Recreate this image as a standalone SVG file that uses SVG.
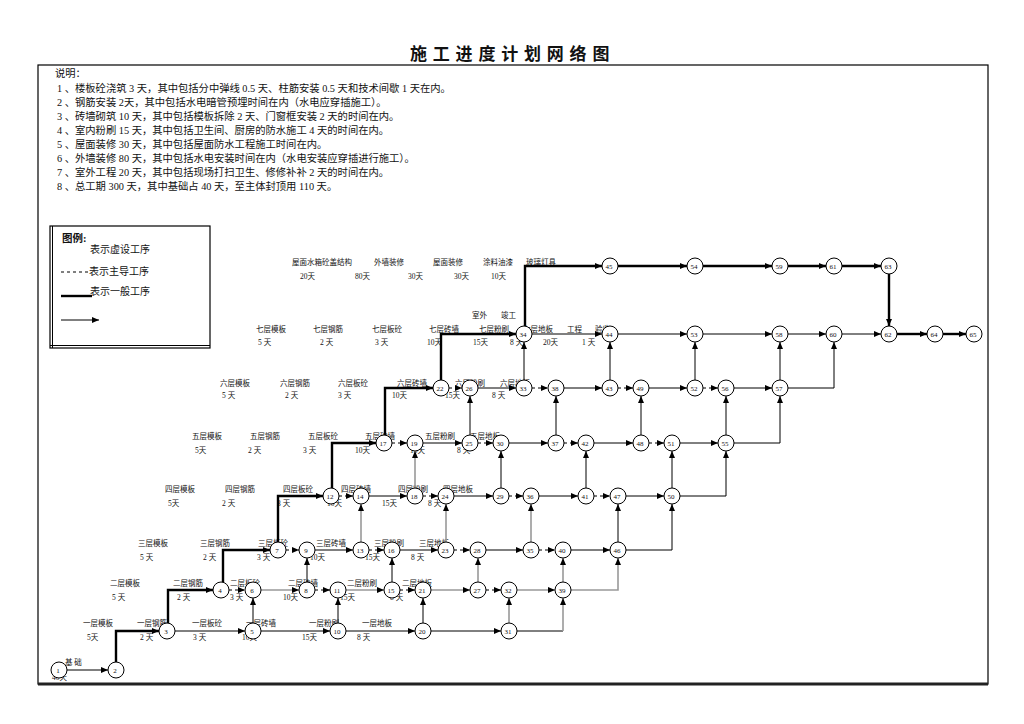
<svg xmlns="http://www.w3.org/2000/svg" width="1024" height="724" viewBox="0 0 1024 724">
<style>
text{font-family:"Liberation Serif","Noto Sans CJK SC",serif;fill:#111}
.ttl{font-size:17px;font-weight:bold;letter-spacing:5.8px}
.nt{font-size:10.3px;white-space:pre}
.lb{font-size:7.5px;fill:#222}
.lg{font-size:10px}
.nn{font-size:7px;text-anchor:middle}
circle{fill:#fff;stroke:#000;stroke-width:1}
.k{stroke:#000;stroke-width:2.4;fill:none}
.t{stroke:#000;stroke-width:1;fill:none}
.g{stroke:#999;stroke-width:1.6;fill:none}
.d{stroke:#000;stroke-width:1;stroke-dasharray:3 3;fill:none}
</style>
<defs>
<marker id="a" markerUnits="userSpaceOnUse" markerWidth="7" markerHeight="6" refX="7" refY="3" orient="auto"><path d="M0,0L7,3L0,6z" fill="#000"/></marker>
</defs>
<rect width="1024" height="724" fill="#fff"/>
<text x="410" y="60" class="ttl">施工进度计划网络图</text>
<rect x="38" y="65" width="950" height="619" fill="none" stroke="#000" stroke-width="1.2"/>
<line x1="38" y1="684" x2="988" y2="684" stroke="#222" stroke-width="3"/>
<g id="notes" class="nt">
<text x="55" y="77">说明：</text>
<text x="57" y="92">1 、楼板砼浇筑 3 天，其中包括分中弹线  0.5 天、柱筋安装 0.5 天和技术间歇 1 天在内。</text>
<text x="57" y="106">2 、钢筋安装 2天，其中包括水电暗管预埋时间在内（水电应穿插施工）。</text>
<text x="57" y="120">3 、砖墙砌筑  10 天，其中包括模板拆除  2 天、门窗框安装 2 天的时间在内。</text>
<text x="57" y="134">4 、室内粉刷 15 天，其中包括卫生间、厨房的防水施工  4 天的时间在内。</text>
<text x="57" y="148">5 、屋面装修 30 天，其中包括屋面防水工程施工时间在内。</text>
<text x="57" y="162">6 、外墙装修 80 天，其中包括水电安装时间在内（水电安装应穿插进行施工）。</text>
<text x="57" y="176">7 、室外工程 20 天，其中包括现场打扫卫生、修修补补  2 天的时间在内。</text>
<text x="57" y="190">8 、总工期 300 天，其中基础占 40 天，至主体封顶用  110 天。</text>
</g>
<g id="legend">
<rect x="50" y="226" width="160" height="122" fill="#fff" stroke="#000" stroke-width="1.2"/>
<line x1="52.5" y1="226" x2="52.5" y2="348" stroke="#000" stroke-width="1"/>
<line x1="50" y1="345.5" x2="210" y2="345.5" stroke="#000" stroke-width="1"/>
<text x="62" y="242" style="font-size:10.5px;font-weight:bold">图例:</text>
<text x="90" y="253" class="lg">表示虚设工序</text>
<line x1="61" y1="272" x2="89" y2="272" class="d" stroke-dasharray="4 3"/>
<text x="89" y="275" class="lg">表示主导工序</text>
<line x1="61" y1="296" x2="92" y2="296" class="k" stroke-width="2.5"/>
<text x="90" y="295" class="lg">表示一般工序</text>
<line x1="61" y1="320" x2="99" y2="320" class="t" marker-end="url(#a)"/>
</g>
<g id="labels" class="lb">
<text x="292" y="265">屋面水箱砼盖结构</text><text x="300" y="279">20天</text>
<text x="374" y="265">外墙装修</text><text x="355" y="279">80天</text>
<text x="433" y="265">屋面装修</text><text x="408" y="279">30天</text>
<text x="483" y="265">涂料油漆</text><text x="454" y="279">30天</text>
<text x="491" y="279">10天</text>
<text x="526" y="265">玻璃灯具</text>
<text x="256" y="332">七层模板</text><text x="258" y="345">5 天</text>
<text x="313" y="332">七层钢筋</text><text x="320" y="345">2 天</text>
<text x="372" y="332">七层板砼</text><text x="375" y="345">3 天</text>
<text x="429" y="332">七层砖墙</text><text x="427" y="345">10天</text>
<text x="479" y="332">七层粉刷</text><text x="473" y="345">15天</text>
<text x="510" y="345">8 天</text>
<text x="472" y="318">室外</text><text x="501" y="318">竣工</text>
<text x="523" y="332">七层地板</text><text x="543" y="345">20天</text>
<text x="567" y="332">工程</text><text x="582" y="345">1 天</text>
<text x="595" y="332">验收</text>
<text x="220" y="386">六层模板</text><text x="222" y="398">5 天</text>
<text x="280" y="386">六层钢筋</text><text x="285" y="398">2 天</text>
<text x="338" y="386">六层板砼</text><text x="338" y="398">3 天</text>
<text x="397" y="386">六层砖墙</text><text x="392" y="398">10天</text>
<text x="455" y="386">六层粉刷</text><text x="445" y="398">15天</text>
<text x="500" y="386">六层地板</text><text x="492" y="398">8 天</text>
<text x="192" y="439">五层模板</text><text x="195" y="453">5天</text>
<text x="250" y="439">五层钢筋</text><text x="248" y="453">2 天</text>
<text x="308" y="439">五层板砼</text><text x="303" y="453">3 天</text>
<text x="365" y="439">五层砖墙</text><text x="355" y="453">10天</text>
<text x="425" y="439">五层粉刷</text><text x="410" y="453">15天</text>
<text x="470" y="439">五层地板</text><text x="457" y="453">8 天</text>
<text x="165" y="492">四层模板</text><text x="168" y="506">5天</text>
<text x="225" y="492">四层钢筋</text><text x="222" y="506">2 天</text>
<text x="283" y="492">四层板砼</text><text x="277" y="506">3 天</text>
<text x="341" y="492">四层砖墙</text><text x="327" y="506">10天</text>
<text x="398" y="492">四层粉刷</text><text x="382" y="506">15天</text>
<text x="443" y="492">四层地板</text><text x="428" y="506">8 天</text>
<text x="138" y="546">三层模板</text><text x="140" y="560">5 天</text>
<text x="200" y="546">三层钢筋</text><text x="203" y="560">2 天</text>
<text x="258" y="546">三层板砼</text><text x="257" y="560">3 天</text>
<text x="316" y="546">三层砖墙</text><text x="310" y="560">10天</text>
<text x="374" y="546">三层粉刷</text><text x="365" y="560">15天</text>
<text x="419" y="546">三层地板</text><text x="411" y="560">8 天</text>
<text x="110" y="586">二层模板</text><text x="112" y="600">5 天</text>
<text x="173" y="586">二层钢筋</text><text x="177" y="600">2 天</text>
<text x="230" y="586">二层板砼</text><text x="230" y="600">3 天</text>
<text x="288" y="586">二层砖墙</text><text x="283" y="600">10天</text>
<text x="347" y="586">二层粉刷</text><text x="340" y="600">15天</text>
<text x="402" y="586">二层地板</text><text x="390" y="600">8 天</text>
<text x="83" y="626">一层模板</text><text x="87" y="640">5天</text>
<text x="137" y="626">一层钢筋</text><text x="140" y="640">2 天</text>
<text x="192" y="626">一层板砼</text><text x="193" y="640">3 天</text>
<text x="246" y="626">一层砖墙</text><text x="242" y="640">10天</text>
<text x="309" y="626">一层粉刷</text><text x="302" y="640">15天</text>
<text x="362" y="626">一层地板</text><text x="357" y="640">8 天</text>
<text x="65" y="665">基 础</text><text x="52" y="680">40天</text>
</g>
<g id="connectors" marker-end="url(#a)">
<line class="t" x1="67" y1="670" x2="108" y2="670"/>
<line class="t" x1="175" y1="631" x2="245" y2="631"/>
<line class="t" x1="261" y1="631" x2="330" y2="631"/>
<line class="t" x1="346" y1="631" x2="415" y2="631"/>
<line class="t" x1="431" y1="631" x2="501" y2="631"/>
<line class="d" x1="229" y1="590" x2="245" y2="590"/>
<line class="g" x1="261" y1="590" x2="299" y2="590"/>
<line class="d" x1="315" y1="590" x2="330" y2="590"/>
<line class="g" x1="346" y1="590" x2="384" y2="590"/>
<line class="d" x1="400" y1="590" x2="415" y2="590"/>
<line class="g" x1="431" y1="590" x2="470" y2="590"/>
<line class="d" x1="486" y1="590" x2="501" y2="590"/>
<line class="g" x1="517" y1="590" x2="555" y2="590"/>
<line class="d" x1="286" y1="550" x2="299" y2="550"/>
<line class="t" x1="315" y1="550" x2="353" y2="550"/>
<line class="d" x1="369" y1="550" x2="384" y2="550"/>
<line class="t" x1="400" y1="550" x2="438" y2="550"/>
<line class="d" x1="454" y1="550" x2="470" y2="550"/>
<line class="t" x1="486" y1="550" x2="523" y2="550"/>
<line class="d" x1="539" y1="550" x2="555" y2="550"/>
<line class="t" x1="571" y1="550" x2="610" y2="550"/>
<line class="d" x1="339" y1="496" x2="353" y2="496"/>
<line class="t" x1="369" y1="496" x2="407" y2="496"/>
<line class="d" x1="423" y1="496" x2="438" y2="496"/>
<line class="t" x1="454" y1="496" x2="493" y2="496"/>
<line class="d" x1="509" y1="496" x2="523" y2="496"/>
<line class="t" x1="539" y1="496" x2="578" y2="496"/>
<line class="d" x1="594" y1="496" x2="610" y2="496"/>
<line class="t" x1="626" y1="496" x2="664" y2="496"/>
<line class="d" x1="392" y1="443" x2="407" y2="443"/>
<line class="t" x1="423" y1="443" x2="462" y2="443"/>
<line class="d" x1="478" y1="443" x2="493" y2="443"/>
<line class="t" x1="509" y1="443" x2="548" y2="443"/>
<line class="d" x1="564" y1="443" x2="578" y2="443"/>
<line class="t" x1="594" y1="443" x2="633" y2="443"/>
<line class="d" x1="649" y1="443" x2="664" y2="443"/>
<line class="t" x1="680" y1="443" x2="718" y2="443"/>
<line class="d" x1="449" y1="388" x2="462" y2="388"/>
<line class="t" x1="478" y1="388" x2="516" y2="388"/>
<line class="d" x1="532" y1="388" x2="548" y2="388"/>
<line class="t" x1="564" y1="388" x2="602" y2="388"/>
<line class="d" x1="618" y1="388" x2="633" y2="388"/>
<line class="t" x1="649" y1="388" x2="687" y2="388"/>
<line class="d" x1="703" y1="388" x2="718" y2="388"/>
<line class="t" x1="734" y1="388" x2="772" y2="388"/>
<line class="t" x1="532" y1="334" x2="602" y2="334"/>
<line class="t" x1="618" y1="334" x2="687" y2="334"/>
<line class="t" x1="703" y1="334" x2="772" y2="334"/>
<line class="t" x1="788" y1="334" x2="826" y2="334"/>
<line class="t" x1="842" y1="334" x2="881" y2="334"/>
<line class="k" x1="897" y1="334" x2="927" y2="334"/>
<line class="k" x1="943" y1="334" x2="966" y2="334"/>
<line class="k" x1="618" y1="266" x2="687" y2="266"/>
<line class="k" x1="703" y1="266" x2="772" y2="266"/>
<line class="k" x1="788" y1="266" x2="826" y2="266"/>
<line class="k" x1="842" y1="266" x2="881" y2="266"/>
<line class="t" x1="253" y1="623" x2="253" y2="598"/>
<line class="t" x1="338" y1="623" x2="338" y2="598"/>
<line class="t" x1="423" y1="623" x2="423" y2="598"/>
<line class="g" x1="509" y1="623" x2="509" y2="598"/>
<line class="t" x1="307" y1="582" x2="307" y2="558"/>
<line class="t" x1="392" y1="582" x2="392" y2="558"/>
<line class="g" x1="478" y1="582" x2="478" y2="558"/>
<line class="g" x1="563" y1="582" x2="563" y2="558"/>
<line class="g" x1="361" y1="542" x2="361" y2="504"/>
<line class="g" x1="446" y1="542" x2="446" y2="504"/>
<line class="g" x1="531" y1="542" x2="531" y2="504"/>
<line class="t" x1="618" y1="542" x2="618" y2="504"/>
<line class="g" x1="415" y1="488" x2="415" y2="451"/>
<line class="t" x1="501" y1="488" x2="501" y2="451"/>
<line class="t" x1="586" y1="488" x2="586" y2="451"/>
<line class="t" x1="672" y1="488" x2="672" y2="451"/>
<line class="t" x1="470" y1="435" x2="470" y2="396"/>
<line class="t" x1="556" y1="435" x2="556" y2="396"/>
<line class="t" x1="641" y1="435" x2="641" y2="396"/>
<line class="t" x1="726" y1="435" x2="726" y2="396"/>
<line class="t" x1="524" y1="380" x2="524" y2="342"/>
<line class="t" x1="610" y1="380" x2="610" y2="342"/>
<line class="t" x1="695" y1="380" x2="695" y2="342"/>
<line class="t" x1="780" y1="380" x2="780" y2="342"/>
<line class="k" x1="889" y1="274" x2="889" y2="326"/>
<path class="k" d="M116,662V631H159"/>
<path class="k" d="M168,623V590H213"/>
<path class="k" d="M223,582V550H270"/>
<path class="k" d="M278,542V496H323"/>
<path class="k" d="M332,488V443H376"/>
<path class="k" d="M385,435V388H433"/>
<path class="k" d="M441,380V334H516"/>
<path class="k" d="M525,326V266H602"/>
<path class="t" d="M517,631H563" marker-end="none"/>
<path class="g" d="M563,631V598"/>
<path class="g" d="M571,590H618V558"/>
<path class="t" d="M626,550H672V504"/>
<path class="t" d="M680,496H726V451"/>
<path class="t" d="M734,443H780V396"/>
<path class="t" d="M788,388H834V342"/>
</g>
<g id="n1"><circle cx="59" cy="670" r="8"/><text x="58" y="672.5" class="nn">1</text></g>
<g id="n2"><circle cx="116" cy="670" r="8"/><text x="115" y="672.5" class="nn">2</text></g>
<g id="n3"><circle cx="167" cy="631" r="8"/><text x="166" y="633.5" class="nn">3</text></g>
<g id="n5"><circle cx="253" cy="631" r="8"/><text x="252" y="633.5" class="nn">5</text></g>
<g id="n10"><circle cx="338" cy="631" r="8"/><text x="337" y="633.5" class="nn">10</text></g>
<g id="n20"><circle cx="423" cy="631" r="8"/><text x="422" y="633.5" class="nn">20</text></g>
<g id="n31"><circle cx="509" cy="631" r="8"/><text x="508" y="633.5" class="nn">31</text></g>
<g id="n4"><circle cx="221" cy="590" r="8"/><text x="220" y="592.5" class="nn">4</text></g>
<g id="n6"><circle cx="253" cy="590" r="8"/><text x="252" y="592.5" class="nn">6</text></g>
<g id="n8"><circle cx="307" cy="590" r="8"/><text x="306" y="592.5" class="nn">8</text></g>
<g id="n11"><circle cx="338" cy="590" r="8"/><text x="337" y="592.5" class="nn">11</text></g>
<g id="n15"><circle cx="392" cy="590" r="8"/><text x="391" y="592.5" class="nn">15</text></g>
<g id="n21"><circle cx="423" cy="590" r="8"/><text x="422" y="592.5" class="nn">21</text></g>
<g id="n27"><circle cx="478" cy="590" r="8"/><text x="477" y="592.5" class="nn">27</text></g>
<g id="n32"><circle cx="509" cy="590" r="8"/><text x="508" y="592.5" class="nn">32</text></g>
<g id="n39"><circle cx="563" cy="590" r="8"/><text x="562" y="592.5" class="nn">39</text></g>
<g id="n7"><circle cx="278" cy="550" r="8"/><text x="277" y="552.5" class="nn">7</text></g>
<g id="n9"><circle cx="307" cy="550" r="8"/><text x="306" y="552.5" class="nn">9</text></g>
<g id="n13"><circle cx="361" cy="550" r="8"/><text x="360" y="552.5" class="nn">13</text></g>
<g id="n16"><circle cx="392" cy="550" r="8"/><text x="391" y="552.5" class="nn">16</text></g>
<g id="n23"><circle cx="446" cy="550" r="8"/><text x="445" y="552.5" class="nn">23</text></g>
<g id="n28"><circle cx="478" cy="550" r="8"/><text x="477" y="552.5" class="nn">28</text></g>
<g id="n35"><circle cx="531" cy="550" r="8"/><text x="530" y="552.5" class="nn">35</text></g>
<g id="n40"><circle cx="563" cy="550" r="8"/><text x="562" y="552.5" class="nn">40</text></g>
<g id="n46"><circle cx="618" cy="550" r="8"/><text x="617" y="552.5" class="nn">46</text></g>
<g id="n12"><circle cx="331" cy="496" r="8"/><text x="330" y="498.5" class="nn">12</text></g>
<g id="n14"><circle cx="361" cy="496" r="8"/><text x="360" y="498.5" class="nn">14</text></g>
<g id="n18"><circle cx="415" cy="496" r="8"/><text x="414" y="498.5" class="nn">18</text></g>
<g id="n24"><circle cx="446" cy="496" r="8"/><text x="445" y="498.5" class="nn">24</text></g>
<g id="n29"><circle cx="501" cy="496" r="8"/><text x="500" y="498.5" class="nn">29</text></g>
<g id="n36"><circle cx="531" cy="496" r="8"/><text x="530" y="498.5" class="nn">36</text></g>
<g id="n41"><circle cx="586" cy="496" r="8"/><text x="585" y="498.5" class="nn">41</text></g>
<g id="n47"><circle cx="618" cy="496" r="8"/><text x="617" y="498.5" class="nn">47</text></g>
<g id="n50"><circle cx="672" cy="496" r="8"/><text x="671" y="498.5" class="nn">50</text></g>
<g id="n17"><circle cx="384" cy="443" r="8"/><text x="383" y="445.5" class="nn">17</text></g>
<g id="n19"><circle cx="415" cy="443" r="8"/><text x="414" y="445.5" class="nn">19</text></g>
<g id="n25"><circle cx="470" cy="443" r="8"/><text x="469" y="445.5" class="nn">25</text></g>
<g id="n30"><circle cx="501" cy="443" r="8"/><text x="500" y="445.5" class="nn">30</text></g>
<g id="n37"><circle cx="556" cy="443" r="8"/><text x="555" y="445.5" class="nn">37</text></g>
<g id="n42"><circle cx="586" cy="443" r="8"/><text x="585" y="445.5" class="nn">42</text></g>
<g id="n48"><circle cx="641" cy="443" r="8"/><text x="640" y="445.5" class="nn">48</text></g>
<g id="n51"><circle cx="672" cy="443" r="8"/><text x="671" y="445.5" class="nn">51</text></g>
<g id="n55"><circle cx="726" cy="443" r="8"/><text x="725" y="445.5" class="nn">55</text></g>
<g id="n22"><circle cx="441" cy="388" r="8"/><text x="440" y="390.5" class="nn">22</text></g>
<g id="n26"><circle cx="470" cy="388" r="8"/><text x="469" y="390.5" class="nn">26</text></g>
<g id="n33"><circle cx="524" cy="388" r="8"/><text x="523" y="390.5" class="nn">33</text></g>
<g id="n38"><circle cx="556" cy="388" r="8"/><text x="555" y="390.5" class="nn">38</text></g>
<g id="n43"><circle cx="610" cy="388" r="8"/><text x="609" y="390.5" class="nn">43</text></g>
<g id="n49"><circle cx="641" cy="388" r="8"/><text x="640" y="390.5" class="nn">49</text></g>
<g id="n52"><circle cx="695" cy="388" r="8"/><text x="694" y="390.5" class="nn">52</text></g>
<g id="n56"><circle cx="726" cy="388" r="8"/><text x="725" y="390.5" class="nn">56</text></g>
<g id="n57"><circle cx="780" cy="388" r="8"/><text x="779" y="390.5" class="nn">57</text></g>
<g id="n34"><circle cx="524" cy="334" r="8"/><text x="523" y="336.5" class="nn">34</text></g>
<g id="n44"><circle cx="610" cy="334" r="8"/><text x="609" y="336.5" class="nn">44</text></g>
<g id="n53"><circle cx="695" cy="334" r="8"/><text x="694" y="336.5" class="nn">53</text></g>
<g id="n58"><circle cx="780" cy="334" r="8"/><text x="779" y="336.5" class="nn">58</text></g>
<g id="n60"><circle cx="834" cy="334" r="8"/><text x="833" y="336.5" class="nn">60</text></g>
<g id="n62"><circle cx="889" cy="334" r="8"/><text x="888" y="336.5" class="nn">62</text></g>
<g id="n64"><circle cx="935" cy="334" r="8"/><text x="934" y="336.5" class="nn">64</text></g>
<g id="n65"><circle cx="974" cy="334" r="8"/><text x="973" y="336.5" class="nn">65</text></g>
<g id="n45"><circle cx="610" cy="266" r="8"/><text x="609" y="268.5" class="nn">45</text></g>
<g id="n54"><circle cx="695" cy="266" r="8"/><text x="694" y="268.5" class="nn">54</text></g>
<g id="n59"><circle cx="780" cy="266" r="8"/><text x="779" y="268.5" class="nn">59</text></g>
<g id="n61"><circle cx="834" cy="266" r="8"/><text x="833" y="268.5" class="nn">61</text></g>
<g id="n63"><circle cx="889" cy="266" r="8"/><text x="888" y="268.5" class="nn">63</text></g>
</svg>
